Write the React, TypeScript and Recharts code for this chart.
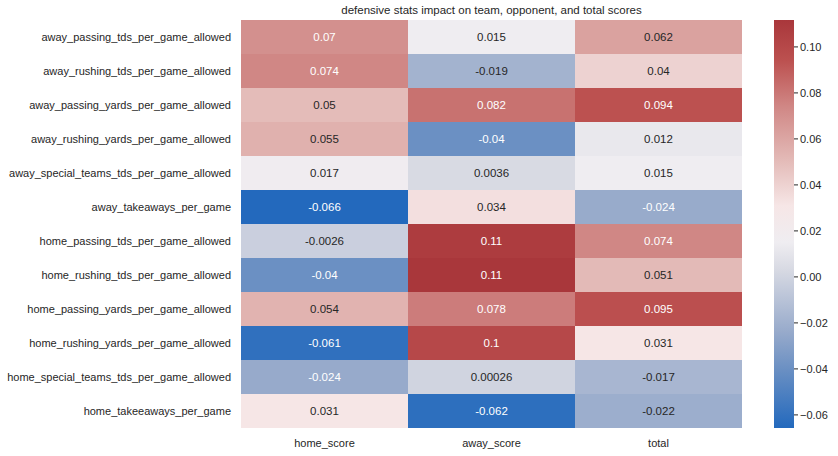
import { Bar, BarChart, Cell, LabelList, XAxis, YAxis } from 'recharts'

const rows = [
  'away_passing_tds_per_game_allowed',
  'away_rushing_tds_per_game_allowed',
  'away_passing_yards_per_game_allowed',
  'away_rushing_yards_per_game_allowed',
  'away_special_teams_tds_per_game_allowed',
  'away_takeaways_per_game',
  'home_passing_tds_per_game_allowed',
  'home_rushing_tds_per_game_allowed',
  'home_passing_yards_per_game_allowed',
  'home_rushing_yards_per_game_allowed',
  'home_special_teams_tds_per_game_allowed',
  'home_takeeaways_per_game',
]

const columns = ['home_score', 'away_score', 'total']

const homeScore = [0.07, 0.074, 0.05, 0.055, 0.017, -0.0657, -0.0026, -0.04, 0.054, -0.061, -0.024, 0.031]
const awayScore = [0.015, -0.019, 0.082, -0.04, 0.0036, 0.034, 0.108, 0.1117, 0.078, 0.1, 0.00026, -0.062]
const totalScore = [0.062, 0.04, 0.094, 0.012, 0.015, -0.0236, 0.074, 0.051, 0.095, 0.031, -0.017, -0.022]

const colorbarTicks = [-0.06, -0.04, -0.02, 0, 0.02, 0.04, 0.06, 0.08, 0.1]

const vmin = Math.min(...homeScore, ...awayScore, ...totalScore)
const vmax = Math.max(...homeScore, ...awayScore, ...totalScore)

// rough vlag palette
const stops: [number, number[]][] = [
  [0, [35, 105, 189]],
  [0.145, [107, 144, 195]],
  [0.235, [151, 170, 203]],
  [0.39, [216, 218, 227]],
  [0.455, [239, 237, 241]],
  [0.545, [246, 230, 230]],
  [0.652, [228, 188, 185]],
  [0.788, [208, 135, 133]],
  [0.9, [188, 81, 80]],
  [1, [169, 55, 59]],
]

function rgbAt(t: number): number[] {
  const c = Math.max(0, Math.min(1, t))
  for (let i = 1; i < stops.length; i++) {
    const [t1, c1] = stops[i]
    const [t0, c0] = stops[i - 1]
    if (c <= t1) {
      const f = (c - t0) / (t1 - t0)
      return c0.map((v, k) => Math.round(v + (c1[k] - v) * f))
    }
  }
  return stops[stops.length - 1][1]
}

function colorOf(v: number): string {
  const [r, g, b] = rgbAt((v - vmin) / (vmax - vmin))
  return `rgb(${r},${g},${b})`
}

function textColorOf(v: number): string {
  const lin = rgbAt((v - vmin) / (vmax - vmin)).map((c) => {
    const s = c / 255
    return s <= 0.03928 ? s / 12.92 : Math.pow((s + 0.055) / 1.055, 2.4)
  })
  const lum = 0.2126 * lin[0] + 0.7152 * lin[1] + 0.0722 * lin[2]
  return lum > 0.408 ? '#262626' : '#ffffff'
}

function fmt(v: number): string {
  let s = v.toPrecision(2)
  if (s.includes('.') && !s.includes('e')) s = s.replace(/0+$/, '').replace(/\.$/, '')
  return s
}

const series = [homeScore, awayScore, totalScore]

const data = rows.map((name, i) => ({
  name,
  c0: 1,
  c1: 1,
  c2: 1,
  v0: homeScore[i],
  v1: awayScore[i],
  v2: totalScore[i],
}))

const font = "'Liberation Sans', Arial, sans-serif"
const tickStyle = { fontSize: 11, fill: '#262626', fontFamily: font }

function CellLabel(props: any) {
  const { x, y, width, height, value } = props
  return (
    <text
      x={Number(x) + Number(width) / 2}
      y={Number(y) + Number(height) / 2}
      textAnchor="middle"
      dominantBaseline="central"
      fontSize={11.5}
      fontFamily={font}
      fill={textColorOf(Number(value))}
    >
      {fmt(Number(value))}
    </text>
  )
}

export default function App() {
  return (
    <div
      style={{
        position: 'absolute',
        left: 0,
        top: 0,
        width: 838,
        height: 456,
        background: '#ffffff',
        fontFamily: font,
      }}
    >
      <div
        style={{
          position: 'absolute',
          left: 241,
          top: 4,
          width: 501,
          textAlign: 'center',
          fontSize: 11.5,
          color: '#262626',
        }}
      >
        defensive stats impact on team, opponent, and total scores
      </div>

      <div style={{ position: 'absolute', left: 0, top: 0 }}>
        <BarChart
          width={760}
          height={456}
          data={data}
          layout="vertical"
          barCategoryGap={0}
          margin={{ top: 20, right: 18, left: 0, bottom: 0 }}
        >
          <XAxis
            type="number"
            domain={[0, 3]}
            ticks={[0.5, 1.5, 2.5]}
            tickFormatter={(v) => columns[Math.floor(v)]}
            axisLine={false}
            tickLine={false}
            tickMargin={5}
            height={28}
            tick={tickStyle}
          />
          <YAxis
            type="category"
            dataKey="name"
            width={241}
            interval={0}
            axisLine={false}
            tickLine={false}
            tickMargin={4}
            tick={tickStyle}
          />
          {series.map((vals, k) => (
            <Bar
              key={k}
              dataKey={`c${k}`}
              stackId="a"
              isAnimationActive={false}
            >
              {vals.map((v, i) => (
                <Cell key={i} fill={colorOf(v)} />
              ))}
              <LabelList dataKey={`v${k}`} content={<CellLabel />} />
            </Bar>
          ))}
        </BarChart>
      </div>

      <div style={{ position: 'absolute', left: 760, top: 0 }}>
        <BarChart
          width={78}
          height={456}
          data={[{ name: 'cb', range: [vmin, vmax] }]}
          barCategoryGap={0}
          margin={{ top: 20, right: 0, left: 14, bottom: 28 }}
        >
          <defs>
            <linearGradient id="cbGrad" x1="0" y1="1" x2="0" y2="0">
              {stops.map(([t, c]) => (
                <stop key={t} offset={t} stopColor={`rgb(${c[0]},${c[1]},${c[2]})`} />
              ))}
            </linearGradient>
          </defs>
          <XAxis dataKey="name" hide />
          <YAxis
            orientation="right"
            domain={[vmin, vmax]}
            ticks={colorbarTicks}
            width={44}
            axisLine={false}
            tickSize={4}
            tickMargin={2}
            tickLine={{ stroke: '#262626' }}
            tick={tickStyle}
            tickFormatter={(v) => v.toFixed(2).replace('-', '\u2212')}
          />
          <Bar dataKey="range" fill="url(#cbGrad)" isAnimationActive={false} />
        </BarChart>
      </div>
    </div>
  )
}
